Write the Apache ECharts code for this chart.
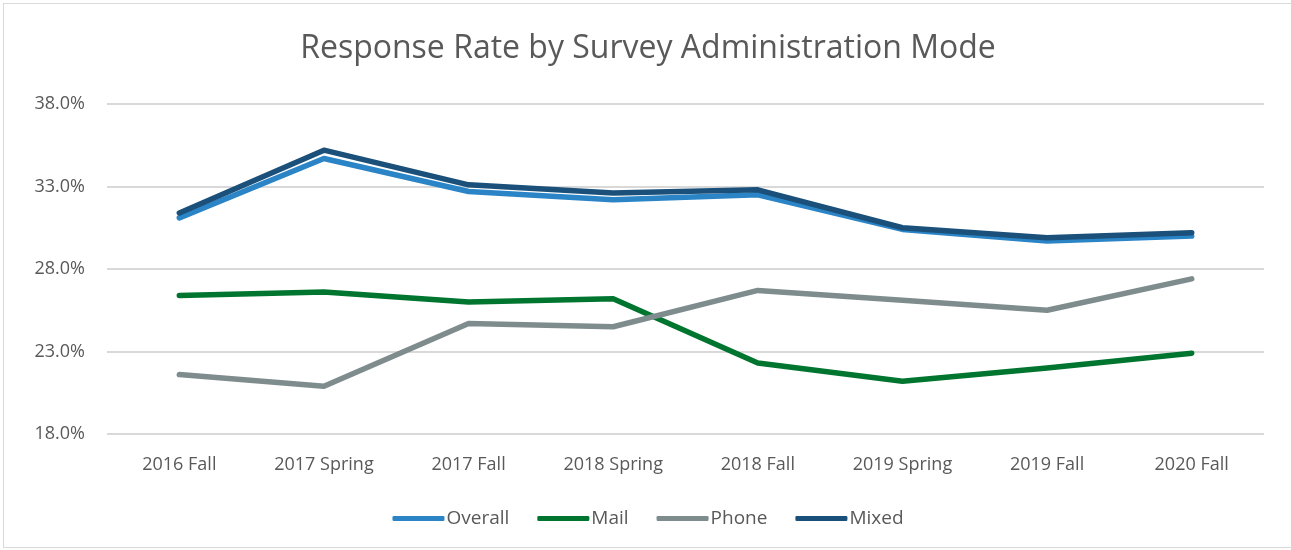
<!DOCTYPE html>
<html>
<head>
<meta charset="utf-8">
<script src="https://cdn.jsdelivr.net/npm/echarts@6/dist/echarts.min.js"></script>
<style>
  html, body { margin: 0; padding: 0; background: #fff; }
  #main { position: absolute; left: 3px; top: 3px; width: 1290px; height: 545px;
          border: 1px solid #d9d9d9; box-sizing: border-box; }
</style>
</head>
<body>
<div id="main"></div>
<script>
// 调查方式响应率
var terms = ['2016 Fall', '2017 Spring', '2017 Fall', '2018 Spring', '2018 Fall', '2019 Spring', '2019 Fall', '2020 Fall'];
var overall = [31.1, 34.7, 32.7, 32.2, 32.5, 30.4, 29.7, 30.0];
var mail = [26.4, 26.6, 26.0, 26.2, 22.3, 21.2, 22.0, 22.9];
var phone = [21.6, 20.9, 24.7, 24.5, 26.7, 26.1, 25.5, 27.4];
var mixed = [31.4, 35.2, 33.1, 32.6, 32.8, 30.5, 29.9, 30.2];

var colors = ['#2a84c6', '#00752f', '#7f8c8d', '#1a5079'];
var font = '"Open Sans", "Noto Sans", sans-serif';

var myChart = echarts.init(document.getElementById('main'));

function line(name, data, idx) {
    return {
        name: name,
        type: 'line',
        data: data,
        symbol: 'none',
        lineStyle: { width: 5.5, color: colors[idx], cap: 'round', join: 'round' },
        itemStyle: { color: colors[idx] },
        z: idx == 3 ? 4 : 3
    };
}

var option = {
    animation: false,
    title: {
        text: 'Response Rate by Survey Administration Mode',
        left: 'center',
        top: 24,
        textStyle: { fontFamily: font, fontSize: 32, fontWeight: 'normal', color: '#595959' }
    },
    legend: {
        bottom: 14,
        left: 'center',
        icon: 'roundRect',
        itemWidth: 52,
        itemHeight: 5,
        itemGap: 28,
        textStyle: { fontFamily: font, fontSize: 19, color: '#595959', padding: [0, 0, 0, -3] },
        data: ['Overall', 'Mail', 'Phone', 'Mixed']
    },
    grid: { left: 103, right: 28, top: 100, bottom: 113, containLabel: false },
    xAxis: {
        type: 'category',
        data: terms,
        boundaryGap: true,
        axisLine: { show: false },
        axisTick: { show: false },
        axisLabel: { fontFamily: font, fontSize: 18, color: '#595959', margin: 22 }
    },
    yAxis: {
        type: 'value',
        min: 18,
        max: 38,
        interval: 5,
        axisLine: { show: false },
        axisTick: { show: false },
        splitLine: { lineStyle: { color: '#d9d9d9', width: 2 } },
        axisLabel: {
            fontFamily: font, fontSize: 18, color: '#595959', margin: 22,
            formatter: function (v) { return v.toFixed(1) + '%'; }
        }
    },
    series: [
        line('Overall', overall, 0),
        line('Mail', mail, 1),
        line('Phone', phone, 2),
        line('Mixed', mixed, 3)
    ]
};

myChart.setOption(option);
</script>
</body>
</html>
